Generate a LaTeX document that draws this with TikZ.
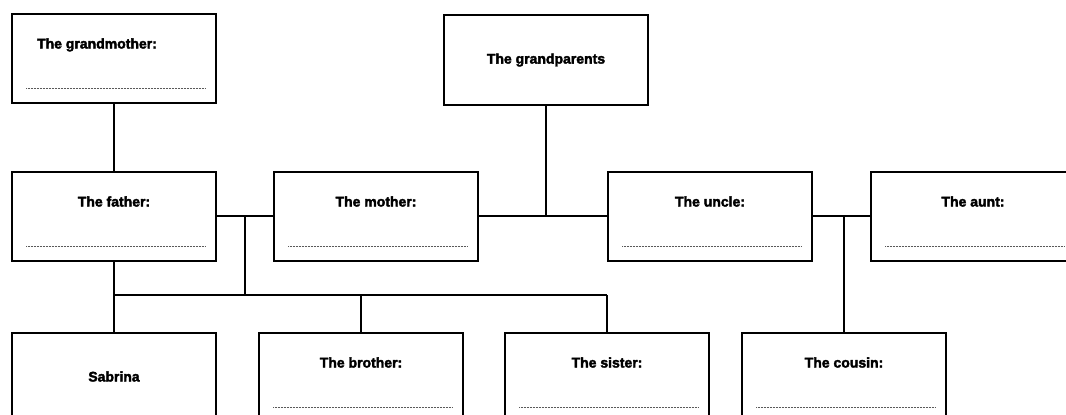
\documentclass[tikz,border=0pt]{standalone}
\usepackage{fontspec}
\setmainfont{Liberation Sans}[BoldFeatures={FakeBold=2.5}]
\usetikzlibrary{positioning,calc}

\begin{document}
\begin{tikzpicture}[x=1pt,y=-1pt,on grid,
    member/.style={draw, line width=2pt, minimum width=204pt, minimum height=89pt,
      inner sep=0pt, text height=35pt, text depth=54pt,
      font=\bfseries\fontsize{14}{16}\selectfont},
    blank/.style={path picture={\draw[dotline]
      ([xshift=14pt,yshift=14pt]path picture bounding box.south west) --
      ([xshift=-11pt,yshift=14pt]path picture bounding box.south east);}},
    head/.style={member, text height=, text depth=, minimum height=90pt},
    self/.style={member, text height=49pt, text depth=40pt},
    dotline/.style={black!65, line width=1.2pt, dash pattern=on 0.8pt off 0.7pt},
    link/.style={line width=1.8pt}]
  \useasboundingbox (0,0) rectangle (1066,415);
           \node[member, blank] (father) at (114,216) {The father:};
           \node[member, blank] (gm) [above=158pt of father] {\hspace*{-34pt}The grandmother:};
           \node[member, blank] (mother) [right=262pt of father] {The mother:};
           \node[member, blank] (uncle) [right=334pt of mother] {The uncle:};
           \node[member, blank] (aunt) [right=263pt of uncle] {The aunt:};
           \node[head] (gp) at (546,60) {The grandparents};
           \node[self] (sabrina) [below=161pt of father] {Sabrina};
           \node[member, blank] (brother) [right=247pt of sabrina] {The brother:};
           \node[member, blank] (sister) [right=246pt of brother] {The sister:};
           \node[member, blank] (cousin) [right=237pt of sister] {The cousin:};
           \coordinate (fm) at (245,216);
           \coordinate (kids) at (245,295);
           \coordinate (mu) at (gp.south |- mother.east);
           \coordinate (ua) at (cousin.north |- uncle.east);
           \draw[link]
            (gm) -- (father)
            (father) -- (sabrina)
            (father.east) -- (mother.west)
            (fm) -- (kids)
            (sabrina.north |- kids) -- (sister.north |- kids)
            (brother.north |- kids) -- (brother.north)
            (sister.north |- kids) -- (sister.north)
            (mother.east) -- (uncle.west)
            (gp) -- (mu)
            (uncle.east) -- (aunt.west)
            (ua) -- (cousin);
        \end{tikzpicture}
\end{document}
